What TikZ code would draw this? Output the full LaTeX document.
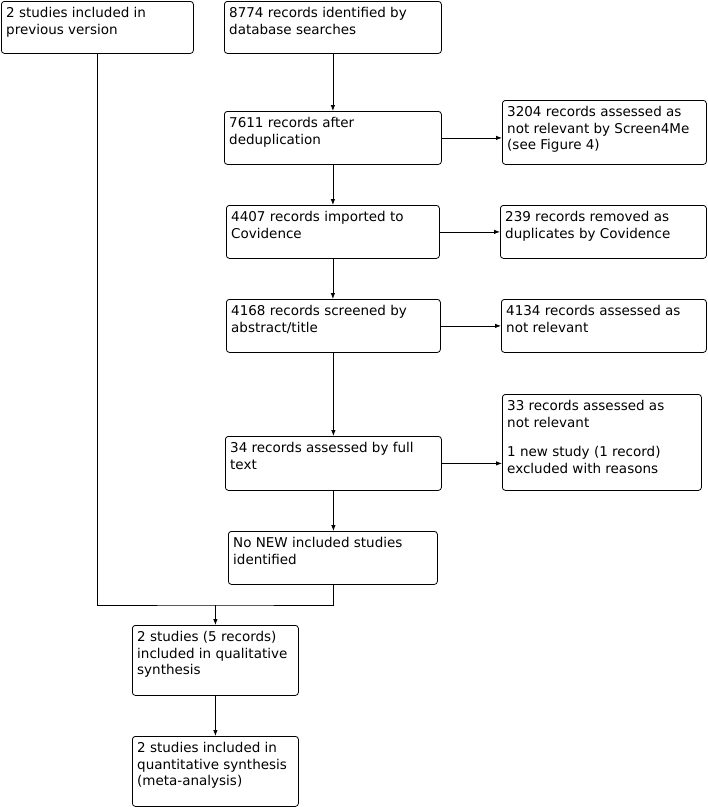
\documentclass[tikz,border=0pt]{standalone}
\usepackage{fontspec}
\setmainfont{DejaVu Sans}
\usetikzlibrary{arrows.meta}
\tikzset{
  boxshape/.style={draw, rounded corners=3pt, line width=0.8pt, inner sep=0pt, anchor=north west},
  boxtext/.style={inner sep=0pt, anchor=north west, align=left, font=\fontsize{13.5}{16.6}\selectfont},
  conn/.style={line width=0.8pt},
  arr/.style={line width=0.8pt, -{Latex[length=6pt,width=4.5pt]}},
}
\newcommand\flowbox[6]{%
  \node[boxshape, minimum width=#4pt-#2pt, minimum height=#5pt-#3pt] (#1) at (#2pt,-#3pt) {};
  \node[boxtext] (#1-t) at ([xshift=5pt,yshift=-6pt]#1.north west) {#6};
}
\begin{document}
\begin{tikzpicture}[x=1pt,y=1pt]
\useasboundingbox (0,0) rectangle (708,-807);
\flowbox{A}{1}{1}{193}{53}{2 studies included in\\previous version}
\flowbox{B}{224}{1}{441}{53}{8774 records identified by\\database searches}
\flowbox{C}{224}{111}{441}{164}{7611 records after\\deduplication}
\flowbox{D}{502}{100}{706}{164}{3204 records assessed as\\not relevant by Screen4Me\\(see Figure 4)}
\flowbox{E}{226}{205}{439}{258}{4407 records imported to\\Covidence}
\flowbox{F}{500}{205}{706}{258}{239 records removed as\\duplicates by Covidence}
\flowbox{G}{226}{299}{440}{352}{4168 records screened by\\abstract/title}
\flowbox{H}{501}{299}{706}{352}{4134 records assessed as\\not relevant}
\flowbox{I}{225}{436}{441}{490}{34 records assessed by full\\text}
\flowbox{J}{502}{394}{701}{490}{33 records assessed as\\not relevant\\[13pt]1 new study (1 record)\\excluded with reasons}
\flowbox{K}{228}{531}{437}{584}{No NEW included studies\\identified}
\flowbox{L}{132}{625}{298}{695}{2 studies (5 records)\\included in qualitative\\synthesis}
\flowbox{M}{132}{736}{298}{806}{2 studies included in\\quantitative synthesis\\(meta-analysis)}
\coordinate (join) at (L.north |- 0,-605);
\draw[arr] (B.south) -- (B.south |- C.north);
\draw[arr] (C.south) -- (C.south |- E.north);
\draw[arr] (E.south) -- (E.south |- G.north);
\draw[arr] (G.south) -- (G.south |- I.north);
\draw[arr] (I.south) -- (I.south |- K.north);
\draw[arr] (C.east) -- (D.west |- C.east);
\draw[arr] (E.east) -- (F.west |- E.east);
\draw[arr] (G.east) -- (H.west |- G.east);
\draw[arr] (I.east) -- (J.west |- I.east);
\draw[conn] (A.south) |- (join) -| (K.south);
\draw[arr] (join) -- (L.north);
\draw[arr] (L.south) -- (M.north);
\end{tikzpicture}
\end{document}
